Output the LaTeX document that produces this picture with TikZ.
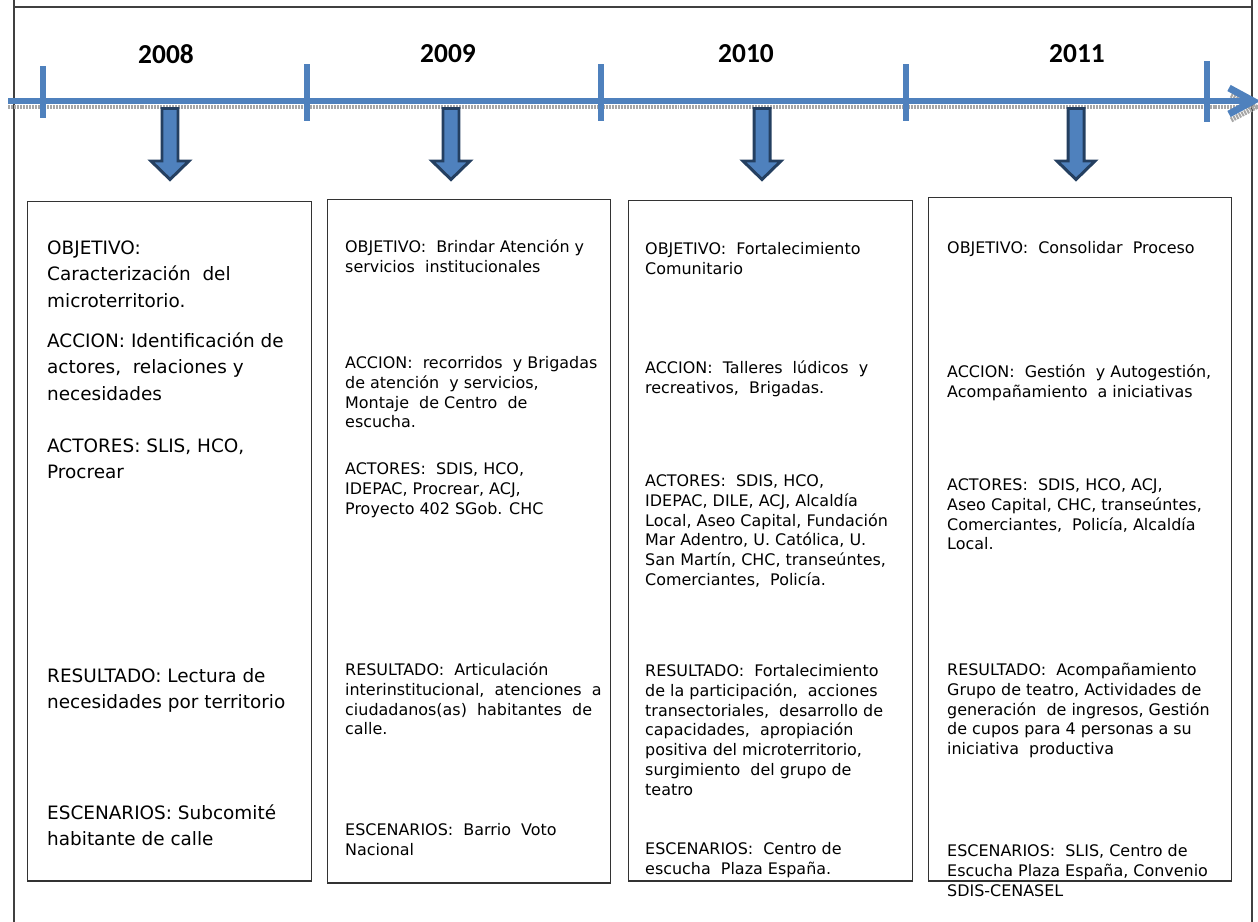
\documentclass[tikz,border=0pt]{standalone}
\usepackage{fontspec}
\setmainfont{DejaVu Sans}
\newfontfamily\yearfont{Carlito}
\definecolor{tlblue}{HTML}{4F81BD}
\definecolor{tldark}{HTML}{243F60}
\definecolor{tlshadow}{HTML}{A6A6A6}
\begin{document}
\begin{tikzpicture}[x=1bp,y=-1bp,
  frame/.style={draw=black!75, line width=1.3},
  tlline/.style={draw=tlblue, line width=6.5},
  tlshade/.style={draw=tlshadow, line width=5, dash pattern=on 2pt off 1pt},
  tick/.style={draw=tlblue, line width=7},
  year/.style={font=\yearfont\bfseries\fontsize{27.5}{30}\selectfont, inner sep=0},
  box/.style={draw=black!80, line width=1.2, anchor=north west, inner sep=0},
  bigtxt/.style={anchor=north west, inner sep=0, align=left, font=\fontsize{18.5}{27}\selectfont},
  smalltxt/.style={anchor=north west, inner sep=0, align=left, font=\fontsize{16}{20}\selectfont},
  downblk/.pic={\filldraw[fill=tlblue, draw=tldark, line width=3, line join=miter]
     (-8,0) -- (-8,52.5) -- (-19,52.5) -- (0,71) -- (19,52.5) -- (8,52.5) -- (8,0) -- cycle;}
]
\useasboundingbox (0,0) rectangle (1258,922);
% outer frame
\draw[frame] (14,0) -- (14,922);
\draw[frame] (1252,0) -- (1252,922);
\draw[frame] (14,7) -- (1252,7);

% timeline
\coordinate (tls) at (8,101);
\coordinate (tle) at (1253,101);
\coordinate (ahu) at (1229,88);
\coordinate (ahl) at (1229,114);
\draw[tlshade] (8,107) -- (1250,107);
\draw[tlshade] (1231,95) -- (1256,107) -- (1231,120);
\draw[tlline] (tls) -- (tle);
\draw[tlline, line width=7] (ahu) -- (tle) -- (ahl);

% ticks
\foreach \tx/\ty/\tb in {43/66/118, 307/64/121, 601/64/121, 906/64/121, 1207/61/122}{
  \draw[tick] (\tx,\ty) -- (\tx,\tb);
}

% years
\node[year] (y2008) at (166,54) {2008};
\node[year] (y2009) at (448,54) {2009};
\node[year] (y2010) at (746,54) {2010};
\node[year] (y2011) at (1077,54) {2011};

% down arrows
\pic at (170,108.5) {downblk};
\pic at (451,108.5) {downblk};
\pic at (762,108.5) {downblk};
\pic at (1076,108.5) {downblk};

% boxes
\node[box, minimum width=285, minimum height=682] (box1) at (27,201) {};
\node[box, minimum width=284, minimum height=686] (box2) at (327,199) {};
\node[box, minimum width=285, minimum height=683] (box3) at (628,200) {};
\node[box, minimum width=304, minimum height=686] (box4) at (928,197) {};

% box 1 texts
\node[bigtxt] (b1obj) at (47,235) {\strut OBJETIVO:\\Caracterización\ \ del\\microterritorio.};
\node[bigtxt] (b1acc) at (47,328) {\strut ACCION: Identificación de\\actores,\ \ relaciones y\\necesidades};
\node[bigtxt] (b1act) at (47,433) {\strut ACTORES: SLIS, HCO,\\Procrear};
\node[bigtxt] (b1res) at (47,663) {\strut RESULTADO: Lectura de\\necesidades por territorio};
\node[bigtxt] (b1esc) at (47,800) {\strut ESCENARIOS: Subcomité\\habitante de calle};

% box 2 texts
\node[smalltxt] (b2obj) at (345,238) {\strut OBJETIVO:\ \ Brindar Atención y\\servicios\ \ institucionales};
\node[smalltxt] (b2acc) at (345,354) {\strut ACCION:\ \ recorridos\ \ y Brigadas\\de atención\ \ y servicios,\\Montaje\ \ de Centro\ \ de\\escucha.};
\node[smalltxt] (b2act) at (345,460) {\strut ACTORES:\ \ SDIS, HCO,\\IDEPAC, Procrear, ACJ,\\Proyecto 402 SGob. CHC};
\node[smalltxt] (b2res) at (345,661) {\strut RESULTADO:\ \ Articulación\\interinstitucional,\ \ atenciones\ \ a\\ciudadanos(as)\ \ habitantes\ \ de\\calle.};
\node[smalltxt] (b2esc) at (345,821) {\strut ESCENARIOS:\ \ Barrio\ \ Voto\\Nacional};

% box 3 texts
\node[smalltxt] (b3obj) at (645,240) {\strut OBJETIVO:\ \ Fortalecimiento\\Comunitario};
\node[smalltxt] (b3acc) at (645,359) {\strut ACCION:\ \ Talleres\ \ lúdicos\ \ y\\recreativos,\ \ Brigadas.};
\node[smalltxt] (b3act) at (645,472) {\strut ACTORES:\ \ SDIS, HCO,\\IDEPAC, DILE, ACJ, Alcaldía\\Local, Aseo Capital, Fundación\\Mar Adentro, U. Católica, U.\\San Martín, CHC, transeúntes,\\Comerciantes,\ \ Policía.};
\node[smalltxt] (b3res) at (645,662) {\strut RESULTADO:\ \ Fortalecimiento\\de la participación,\ \ acciones\\transectoriales,\ \ desarrollo de\\capacidades,\ \ apropiación\\positiva del microterritorio,\\surgimiento\ \ del grupo de\\teatro};
\node[smalltxt] (b3esc) at (645,840) {\strut ESCENARIOS:\ \ Centro de\\escucha\ \ Plaza España.};

% box 4 texts
\node[smalltxt] (b4obj) at (947,239) {\strut OBJETIVO:\ \ Consolidar\ \ Proceso};
\node[smalltxt] (b4acc) at (947,363) {\strut ACCION:\ \ Gestión\ \ y Autogestión,\\Acompañamiento\ \ a iniciativas};
\node[smalltxt] (b4act) at (947,476) {\strut ACTORES:\ \ SDIS, HCO, ACJ,\\Aseo Capital, CHC, transeúntes,\\Comerciantes,\ \ Policía, Alcaldía\\Local.};
\node[smalltxt] (b4res) at (947,661) {\strut RESULTADO:\ \ Acompañamiento\\Grupo de teatro, Actividades de\\generación\ \ de ingresos, Gestión\\de cupos para 4 personas a su\\iniciativa\ \ productiva};
\node[smalltxt] (b4esc) at (947,842) {\strut ESCENARIOS:\ \ SLIS, Centro de\\Escucha Plaza España, Convenio\\SDIS-CENASEL};
\end{tikzpicture}
\end{document}
